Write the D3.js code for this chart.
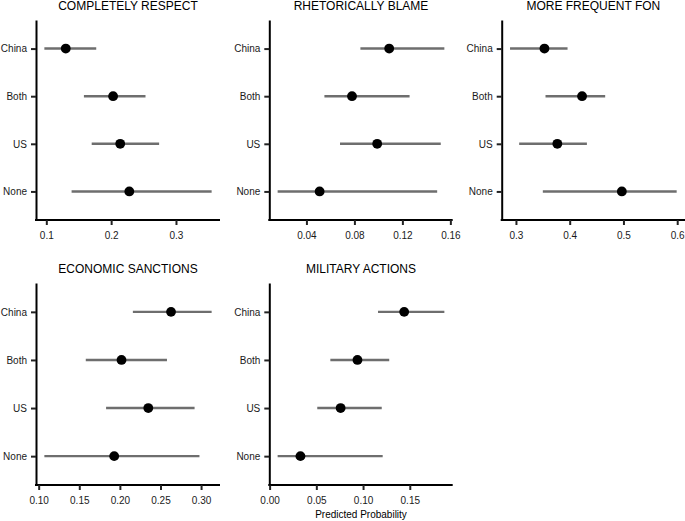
<!DOCTYPE html>
<html>
<head>
<meta charset="utf-8">
<script src="https://cdn.jsdelivr.net/npm/d3@7"></script>
<style>
  html, body { margin: 0; padding: 0; background: #fff; }
  svg { display: block; font-family: "Liberation Sans", Arial, Helvetica, sans-serif; }
</style>
</head>
<body>
<svg id="chart" width="685" height="521"></svg>
<script>
// ---- data ----
const categories = ["China", "Both", "US", "None"];
const titles = ["COMPLETELY RESPECT", "RHETORICALLY BLAME", "MORE FREQUENT FON", "ECONOMIC SANCTIONS", "MILITARY ACTIONS"];

const estRespect   = [0.130, 0.203, 0.214, 0.228];
const lowRespect   = [0.097, 0.158, 0.170, 0.139];
const highRespect  = [0.177, 0.253, 0.274, 0.355];

const estBlame     = [0.109, 0.078, 0.099, 0.051];
const lowBlame     = [0.085, 0.055, 0.068, 0.016];
const highBlame    = [0.155, 0.126, 0.152, 0.149];

const estFon       = [0.353, 0.423, 0.377, 0.497];
const lowFon       = [0.289, 0.355, 0.306, 0.350];
const highFon      = [0.396, 0.466, 0.432, 0.599];

const estSanction  = [0.263, 0.202, 0.235, 0.193];
const lowSanction  = [0.216, 0.158, 0.183, 0.107];
const highSanction = [0.313, 0.258, 0.292, 0.298];

const estMilitary  = [0.144, 0.094, 0.076, 0.033];
const lowMilitary  = [0.116, 0.065, 0.051, 0.0086];
const highMilitary = [0.187, 0.128, 0.120, 0.121];

const ticksRespect  = [0.1, 0.2, 0.3];
const ticksBlame    = [0.04, 0.08, 0.12, 0.16];
const ticksFon      = [0.3, 0.4, 0.5, 0.6];
const ticksSanction = [0.10, 0.15, 0.20, 0.25, 0.30];
const ticksMilitary = [0.00, 0.05, 0.10, 0.15];
const tickFormats   = [".1f", ".2f", ".1f", ".2f", ".2f"];
const xAxisTitle = "Predicted Probability";

// ---- layout ----
const panels = [
  { est: estRespect,  lo: lowRespect,  hi: highRespect,  ticks: ticksRespect,  x0: 36,    x1: 220,   y0: 20,  y1: 220, titleY: 9.5 },
  { est: estBlame,    lo: lowBlame,    hi: highBlame,    ticks: ticksBlame,    x0: 269.3, x1: 452.7, y0: 20,  y1: 220, titleY: 9.5 },
  { est: estFon,      lo: lowFon,      hi: highFon,      ticks: ticksFon,      x0: 501.7, x1: 685,   y0: 20,  y1: 220, titleY: 9.5 },
  { est: estSanction, lo: lowSanction, hi: highSanction, ticks: ticksSanction, x0: 36,    x1: 220,   y0: 283, y1: 485, titleY: 273 },
  { est: estMilitary, lo: lowMilitary, hi: highMilitary, ticks: ticksMilitary, x0: 269.3, x1: 452.7, y0: 283, y1: 485, titleY: 273 }
];

const svg = d3.select("#chart");

panels.forEach((p, i) => {
  const g = svg.append("g");
  const lo = d3.min(p.lo), hi = d3.max(p.hi);
  const pad = (hi - lo) * 0.05;
  const x = d3.scaleLinear().domain([lo - pad, hi + pad]).range([p.x0, p.x1]);
  const y = d3.scalePoint().domain(categories).range([p.y0, p.y1]).padding(0.6);

  // title
  g.append("text")
    .attr("x", (p.x0 + p.x1) / 2)
    .attr("y", p.titleY)
    .attr("text-anchor", "middle")
    .attr("font-size", 12)
    .attr("fill", "#000")
    .text(titles[i]);

  // CI lines
  g.selectAll("line.ci")
    .data(categories)
    .join("line")
    .attr("class", "ci")
    .attr("x1", (d, j) => x(p.lo[j]))
    .attr("x2", (d, j) => x(p.hi[j]))
    .attr("y1", d => y(d))
    .attr("y2", d => y(d))
    .attr("stroke", "#6e6e6e")
    .attr("stroke-width", 2.4);

  // points
  g.selectAll("circle.pt")
    .data(categories)
    .join("circle")
    .attr("class", "pt")
    .attr("cx", (d, j) => x(p.est[j]))
    .attr("cy", d => y(d))
    .attr("r", 4.9)
    .attr("fill", "#000");

  // axes
  const ax = g.append("g")
    .attr("transform", `translate(0,${p.y1})`)
    .call(d3.axisBottom(x).tickValues(p.ticks).tickFormat(d3.format(tickFormats[i])).tickSize(5).tickSizeOuter(0).tickPadding(6.4));
  const ay = g.append("g")
    .attr("transform", `translate(${p.x0},0)`)
    .call(d3.axisLeft(y).tickSize(5).tickSizeOuter(0).tickPadding(4));

  [ax, ay].forEach(a => {
    a.select(".domain").attr("stroke", "#000").attr("stroke-width", 2);
    a.selectAll(".tick line").attr("stroke", "#222").attr("stroke-width", 2);
    a.selectAll(".tick text").attr("font-size", 10).attr("fill", "#1a1a1a")
      .attr("font-family", "'Liberation Sans', Arial, Helvetica, sans-serif");
  });
  ax.select(".domain").attr("d", `M${p.x0 - 1},0H${p.x1}`);

  if (i === 4) {
    g.append("text")
      .attr("x", (p.x0 + p.x1) / 2)
      .attr("y", 518)
      .attr("text-anchor", "middle")
      .attr("font-size", 10)
      .attr("fill", "#000")
      .text(xAxisTitle);
  }
});
</script>
</body>
</html>
